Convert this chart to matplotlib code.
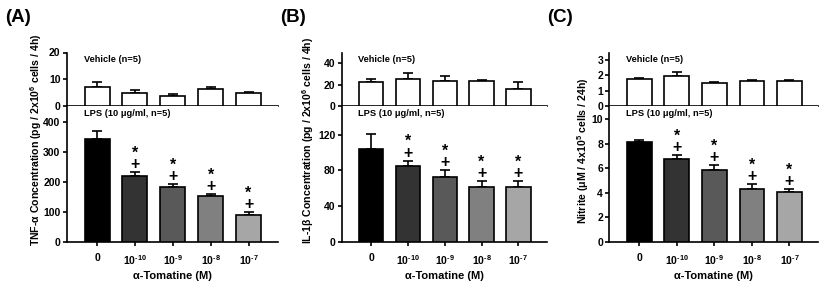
import numpy as np
import matplotlib
matplotlib.use('Agg')
import matplotlib.pyplot as plt

plt.rcParams['font.family'] = ['Liberation Sans', 'DejaVu Sans']
plt.rcParams['font.weight'] = 'bold'
plt.rcParams['mathtext.default'] = 'bf'
plt.rcParams['mathtext.fontset'] = 'custom'
plt.rcParams['mathtext.bf'] = 'Liberation Sans:bold'
plt.rcParams['mathtext.rm'] = 'Liberation Sans'

# data
doses = ['0', '10$^{\u2010 10}$', '10$^{\u2010 9}$', '10$^{\u2010 8}$', '10$^{\u2010 7}$']
sig = [False, True, True, True, True]

tnf_veh = [7.0, 5.0, 3.7, 6.2, 5.0]
tnf_veh_err = [2.0, 1.1, 0.6, 0.8, 0.2]
tnf_lps = [343, 222, 185, 153, 92]
tnf_lps_err = [27, 13, 8, 7, 7]

il1_veh = [22, 25, 23, 23, 16]
il1_veh_err = [3.5, 6, 5, 1.5, 6]
il1_lps = [104, 85, 73, 61.5, 61]
il1_lps_err = [17, 6, 7, 7, 7]

no_veh = [1.75, 1.95, 1.5, 1.62, 1.62]
no_veh_err = [0.07, 0.25, 0.05, 0.05, 0.05]
no_lps = [8.15, 6.8, 5.85, 4.3, 4.1]
no_lps_err = [0.15, 0.3, 0.45, 0.4, 0.25]

lps_colors = ['#000000', '#333333', '#595959', '#808080', '#a6a6a6']

panels = [
    dict(tag='(A)', veh=tnf_veh, veh_err=tnf_veh_err, lps=tnf_lps, lps_err=tnf_lps_err,
         top_ylim=20, top_ticks=[0, 10, 20], bot_ylim=455, bot_ticks=[0, 100, 200, 300, 400],
         ylabel='TNF-\u03b1 Concentration (pg / 2x10$^6$ cells / 4h)', left=66.7, width=211,
         ylab_x=36, ylab_y=140),
    dict(tag='(B)', veh=il1_veh, veh_err=il1_veh_err, lps=il1_lps, lps_err=il1_lps_err,
         top_ylim=50, top_ticks=[0, 20, 40], bot_ylim=152, bot_ticks=[0, 40, 80, 120],
         ylabel='IL-1\u03b2 Concentration (pg / 2x10$^6$ cells / 4h)', left=341.7, width=205,
         ylab_x=308, ylab_y=140),
    dict(tag='(C)', veh=no_veh, veh_err=no_veh_err, lps=no_lps, lps_err=no_lps_err,
         top_ylim=3.5, top_ticks=[0, 1, 2, 3], bot_ylim=11.1, bot_ticks=[0, 2, 4, 6, 8, 10],
         ylabel='Nitrite (\u03bcM / 4x10$^5$ cells / 24h)', left=609.3, width=209,
         ylab_x=583, ylab_y=151),
]

W, H = 825, 289
fig = plt.figure(figsize=(W / 100, H / 100), dpi=100)

x = np.arange(5)
lw = 1.2
fs = 7.5

for p in panels:
    l = p['left'] / W
    w = p['width'] / W
    ax_top = fig.add_axes([l, 1 - 106 / H, w, (106 - 52.5) / H])
    ax_bot = fig.add_axes([l, 1 - 242 / H, w, (242 - 106) / H])

    for ax in (ax_top, ax_bot):
        ax.set_xlim(-0.8, 4.77)
        for s in ('top', 'right'):
            ax.spines[s].set_visible(False)
        for s in ('left', 'bottom'):
            ax.spines[s].set_linewidth(lw)
        ax.tick_params(width=lw, length=3, labelsize=fs, pad=1.5)

    ax_top.bar(x, p['veh'], width=0.66, color='white', edgecolor='black', linewidth=lw, zorder=3)
    ax_top.errorbar(x, p['veh'], yerr=[np.zeros(5), p['veh_err']], fmt='none',
                    ecolor='black', elinewidth=lw, capsize=3.5, capthick=lw, zorder=2)
    ax_top.set_ylim(0, p['top_ylim'])
    ax_top.set_yticks(p['top_ticks'])
    ax_top.set_xticks([])
    ax_top.text(0.08, 0.95, 'Vehicle (n=5)', transform=ax_top.transAxes, fontsize=6.7,
                fontweight='bold', va='top')

    ax_bot.bar(x, p['lps'], width=0.66, color=lps_colors, edgecolor='black', linewidth=lw, zorder=3)
    ax_bot.errorbar(x, p['lps'], yerr=[np.zeros(5), p['lps_err']], fmt='none',
                    ecolor='black', elinewidth=lw, capsize=3.5, capthick=lw, zorder=2)
    ax_bot.set_ylim(0, p['bot_ylim'])
    ax_bot.set_yticks(p['bot_ticks'])
    ax_bot.set_xticks(x)
    ax_bot.set_xticklabels(doses, fontsize=fs)
    ax_bot.tick_params(axis='x', pad=5)
    ax_bot.text(0.08, 0.98, 'LPS (10 \u03bcg/ml, n=5)', transform=ax_bot.transAxes, fontsize=6.7,
                fontweight='bold', va='top')
    ax_bot.set_xlabel('\u03b1-Tomatine (M)', fontsize=8, fontweight='bold', labelpad=3)

    # significance marks: * above +
    for i in range(5):
        if sig[i]:
            top = p['lps'][i] + p['lps_err'][i]
            ax_bot.annotate('*\n+', (i, top), xytext=(0, 0), textcoords='offset points',
                            ha='center', va='bottom', fontsize=11.5, fontweight='bold',
                            linespacing=0.7, multialignment='center')

    fig.text(p['ylab_x'] / W, 1 - p['ylab_y'] / H, p['ylabel'], rotation=90,
             ha='center', va='center', fontsize=7.6, fontweight='bold')
    fig.text((p['left'] - 62) / W, 1 - 17 / H, p['tag'], fontsize=13.5,
             fontweight='bold', ha='left', va='center')

fig.savefig('out.png', dpi=100)
